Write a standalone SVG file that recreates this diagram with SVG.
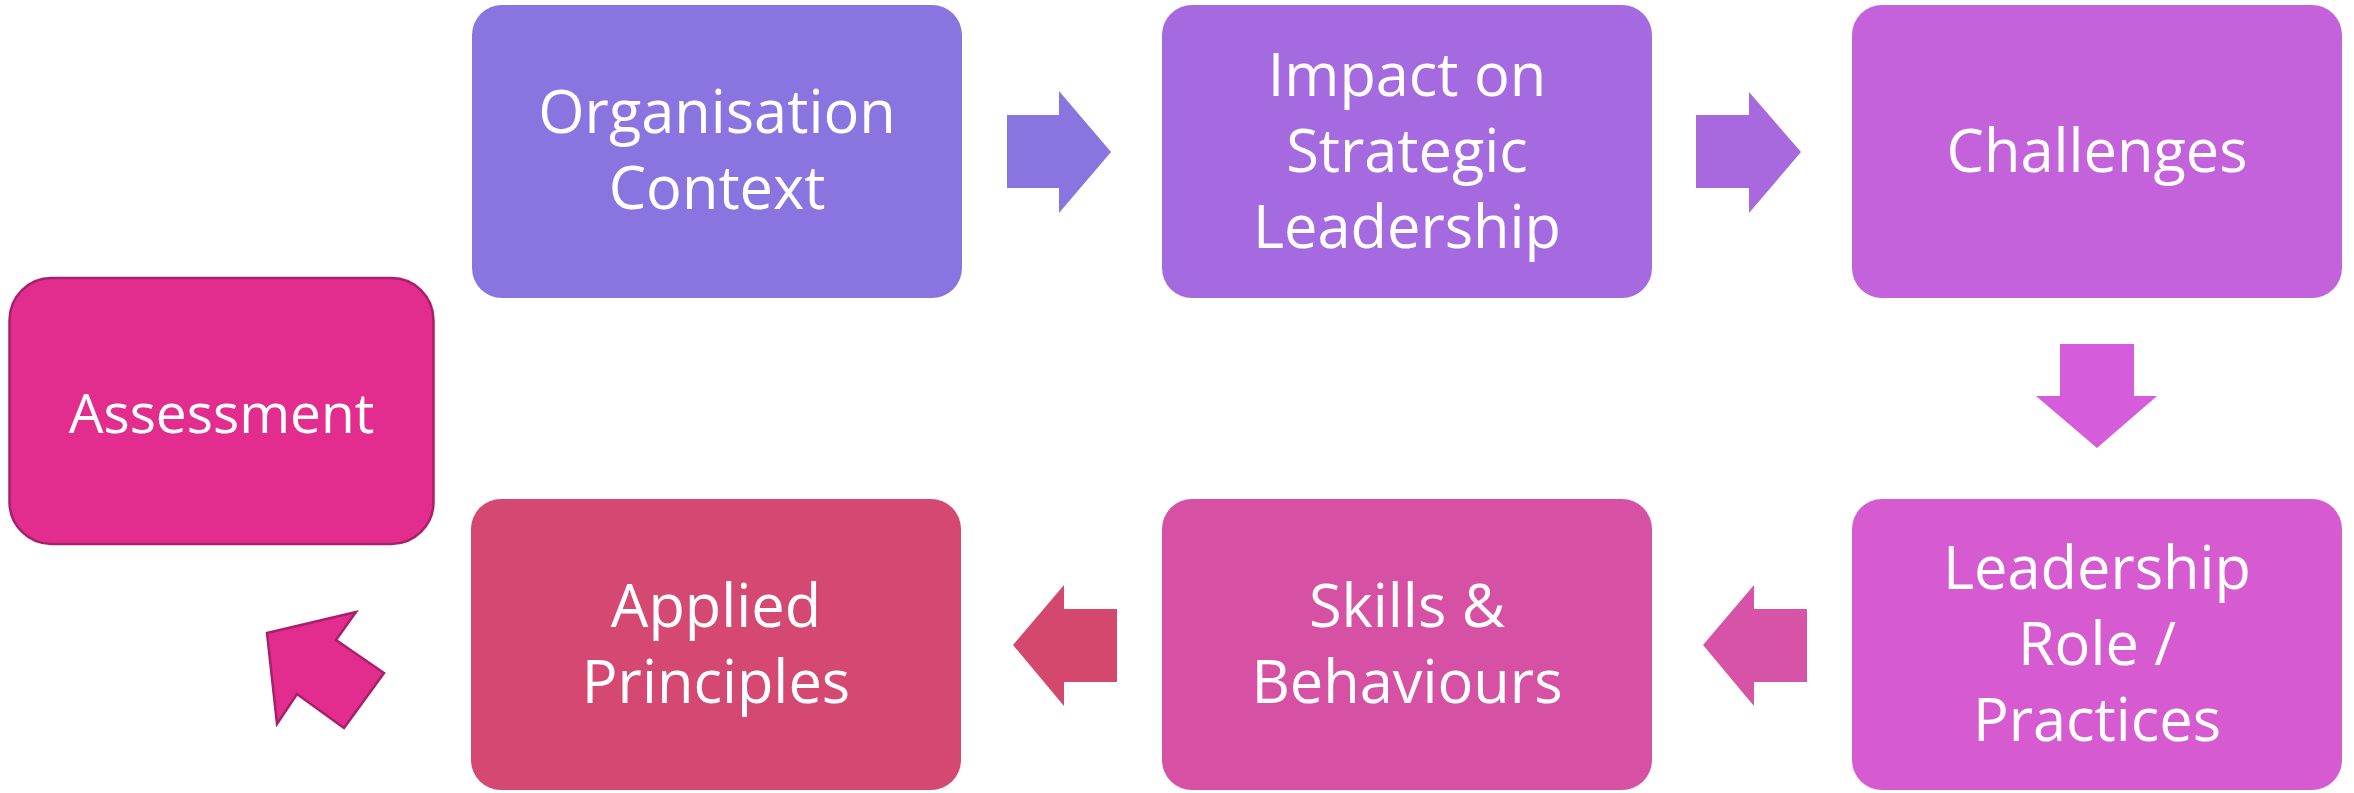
<svg xmlns="http://www.w3.org/2000/svg" width="2354" height="793" viewBox="0 0 2354 793">
<style>
.t{font-family:"Open Sans","Liberation Sans",sans-serif;font-size:59.5px;fill:#ffffff;text-anchor:middle}
</style>
<rect width="2354" height="793" fill="#ffffff"/>
<g id="connectors">
<polygon points="1007,115 1059,115 1059,91 1111,152 1059,213 1059,188 1007,188" fill="#8a74e0"/>
<polygon points="1696,115 1749,115 1749,92 1801,152 1749,213 1749,188 1696,188" fill="#a868de"/>
<polygon points="2060,344 2134,344 2134,396 2157,396 2097,448 2036,396 2060,396" fill="#d55ddb"/>
<polygon points="1807,609 1754,609 1754,585 1703,645 1754,706 1754,682 1807,682" fill="#d653a8"/>
<polygon points="1117,609 1064,609 1064,585 1013,645 1064,706 1064,682 1117,682" fill="#d4486e"/>
<polygon points="267,633 356,612 336,640 384,673 344,728 297,694 277,724" fill="#e22d8f" stroke="#a8206a" stroke-width="2.5" stroke-linejoin="miter"/>
</g>
<g id="organisation-context">
<rect x="472" y="5" width="490" height="293" rx="30" fill="#8a74e0"/>
<text class="t" x="717" y="133">Organisation</text>
<text class="t" x="717" y="209">Context</text>
</g>
<g id="impact">
<rect x="1162" y="5" width="490" height="293" rx="30" fill="#a56ae0"/>
<text class="t" x="1407" y="96">Impact on</text>
<text class="t" x="1407" y="172">Strategic</text>
<text class="t" x="1407" y="248">Leadership</text>
</g>
<g id="challenges">
<rect x="1852" y="5" width="490" height="293" rx="30" fill="#c462dc"/>
<text class="t" x="2097" y="172">Challenges</text>
</g>
<g id="leadership-role">
<rect x="1852" y="499" width="490" height="291" rx="30" fill="#d75bd0"/>
<text class="t" x="2097" y="589">Leadership</text>
<text class="t" x="2097" y="665">Role /</text>
<text class="t" x="2097" y="741">Practices</text>
</g>
<g id="skills">
<rect x="1162" y="499" width="490" height="291" rx="30" fill="#d651a3"/>
<text class="t" x="1407" y="627">Skills &amp;</text>
<text class="t" x="1407" y="703">Behaviours</text>
</g>
<g id="applied">
<rect x="471" y="499" width="490" height="291" rx="30" fill="#d44872"/>
<text class="t" x="716" y="627">Applied</text>
<text class="t" x="716" y="703">Principles</text>
</g>
<g id="assessment">
<rect x="9.5" y="278" width="424" height="266" rx="42" fill="#e22d8f" stroke="#a8206a" stroke-width="2.5"/>
<text class="t" x="221.5" y="433" style="font-size:55px">Assessment</text>
</g>
</svg>
